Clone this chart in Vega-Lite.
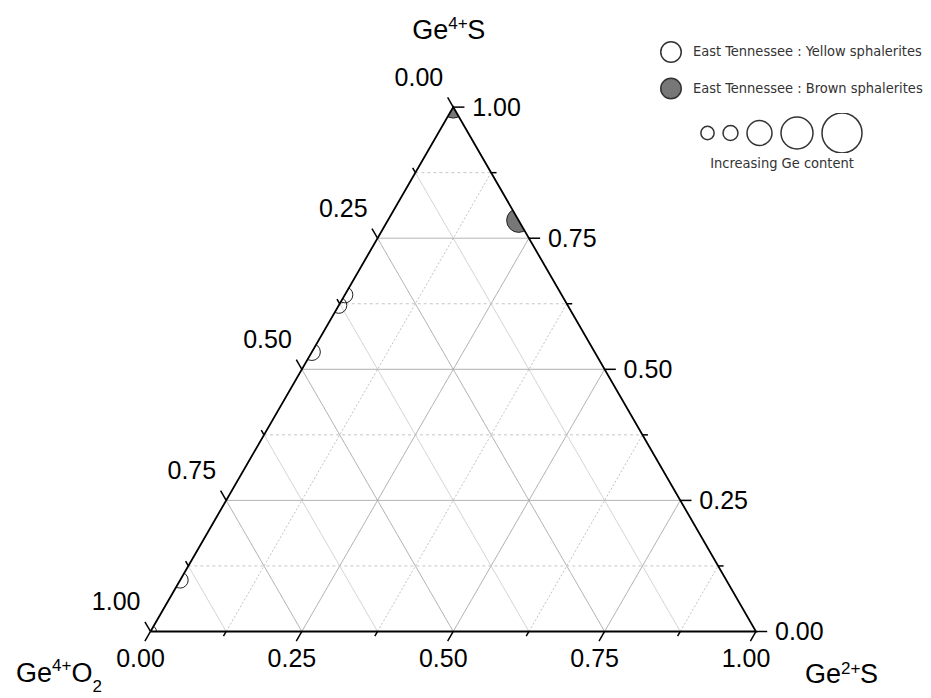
{
  "$schema": "https://vega.github.io/schema/vega-lite/v6.json",
  "width": 931,
  "height": 698,
  "autosize": "none",
  "padding": 0,
  "background": "white",
  "config": {
    "view": {"stroke": null},
    "text": {"font": "Liberation Sans, Arial, sans-serif", "color": "black"}
  },
  "datasets": {
    "pts": [
      {"Ge4O2": 0, "Ge2S": 0, "Ge4S": 1, "type": "East Tennessee : Brown sphalerites", "Ge": 302},
      {"Ge4O2": 0, "Ge2S": 0.216, "Ge4S": 0.784, "type": "East Tennessee : Brown sphalerites", "Ge": 360},
      {"Ge4O2": 0.358, "Ge2S": 0, "Ge4S": 0.642, "type": "East Tennessee : Yellow sphalerites", "Ge": 160},
      {"Ge4O2": 0.378, "Ge2S": 0, "Ge4S": 0.622, "type": "East Tennessee : Yellow sphalerites", "Ge": 160},
      {"Ge4O2": 0.467, "Ge2S": 0, "Ge4S": 0.533, "type": "East Tennessee : Yellow sphalerites", "Ge": 180},
      {"Ge4O2": 0.902, "Ge2S": 0, "Ge4S": 0.098, "type": "East Tennessee : Yellow sphalerites", "Ge": 160},
      {"Ge4O2": 1, "Ge2S": 0, "Ge4S": 0, "type": "East Tennessee : Yellow sphalerites", "Ge": 90}
    ],
    "grid": [
      {"axis": "a", "v": 0.125}, {"axis": "a", "v": 0.25}, {"axis": "a", "v": 0.375}, {"axis": "a", "v": 0.5},
      {"axis": "a", "v": 0.625}, {"axis": "a", "v": 0.75}, {"axis": "a", "v": 0.875},
      {"axis": "b", "v": 0.125}, {"axis": "b", "v": 0.25}, {"axis": "b", "v": 0.375}, {"axis": "b", "v": 0.5},
      {"axis": "b", "v": 0.625}, {"axis": "b", "v": 0.75}, {"axis": "b", "v": 0.875},
      {"axis": "c", "v": 0.125}, {"axis": "c", "v": 0.25}, {"axis": "c", "v": 0.375}, {"axis": "c", "v": 0.5},
      {"axis": "c", "v": 0.625}, {"axis": "c", "v": 0.75}, {"axis": "c", "v": 0.875}
    ],
    "ticks": [
      {"axis": "a", "v": 0}, {"axis": "a", "v": 0.125}, {"axis": "a", "v": 0.25}, {"axis": "a", "v": 0.375}, {"axis": "a", "v": 0.5},
      {"axis": "a", "v": 0.625}, {"axis": "a", "v": 0.75}, {"axis": "a", "v": 0.875}, {"axis": "a", "v": 1},
      {"axis": "b", "v": 0}, {"axis": "b", "v": 0.125}, {"axis": "b", "v": 0.25}, {"axis": "b", "v": 0.375}, {"axis": "b", "v": 0.5},
      {"axis": "b", "v": 0.625}, {"axis": "b", "v": 0.75}, {"axis": "b", "v": 0.875}, {"axis": "b", "v": 1},
      {"axis": "c", "v": 0}, {"axis": "c", "v": 0.125}, {"axis": "c", "v": 0.25}, {"axis": "c", "v": 0.375}, {"axis": "c", "v": 0.5},
      {"axis": "c", "v": 0.625}, {"axis": "c", "v": 0.75}, {"axis": "c", "v": 0.875}, {"axis": "c", "v": 1}
    ],
    "vertices": [
      {"name": "Ge4O2", "i": 0, "Ge2S": 0, "Ge4S": 0},
      {"name": "Ge2S", "i": 1, "Ge2S": 1, "Ge4S": 0},
      {"name": "Ge4S", "i": 2, "Ge2S": 0, "Ge4S": 1},
      {"name": "Ge4O2", "i": 3, "Ge2S": 0, "Ge4S": 0}
    ],
    "maskL": [{"y": -0.03, "x": -0.0573, "x2": -0.0173}, {"y": 0.9, "x": 0.4796, "x2": 0.5196}],
    "maskR": [{"y": -0.03, "x": 1.0173, "x2": 1.0573}, {"y": 0.9, "x": 0.4804, "x2": 0.5204}],
    "maskB": [{"x": -0.06, "x2": 1.06, "y": -0.03, "y2": 0}]
  },
  "encoding": {
    "x": {"field": "x", "type": "quantitative", "scale": {"domain": [-0.24855, 1.28902], "nice": false, "zero": false}, "axis": null},
    "y": {"field": "y", "type": "quantitative", "scale": {"domain": [-0.10983, 1.04294], "nice": false, "zero": false}, "axis": null}
  },
  "layer": [
    {
      "data": {"name": "grid"},
      "transform": [
        {"calculate": "datum.axis=='c' ? datum.v/2 : datum.axis=='b' ? datum.v : 1-datum.v", "as": "x"},
        {"calculate": "datum.axis=='c' ? datum.v*0.8660254 : 0", "as": "y"},
        {"calculate": "datum.axis=='c' ? 1-datum.v/2 : datum.axis=='b' ? (1+datum.v)/2 : (1-datum.v)/2", "as": "x2"},
        {"calculate": "datum.axis=='c' ? datum.v*0.8660254 : (1-datum.v)*0.8660254", "as": "y2"},
        {"calculate": "(datum.v*4)%1==0 ? 'major' : datum.axis", "as": "kind"}
      ],
      "mark": {"type": "rule", "strokeWidth": 1},
      "encoding": {
        "x2": {"field": "x2"},
        "y2": {"field": "y2"},
        "color": {"field": "kind", "type": "nominal", "scale": {"domain": ["major", "a", "b", "c"], "range": ["#a8a8a8", "#cfcfcf", "#c2c2c2", "#c6c6c6"]}, "legend": null},
        "strokeDash": {"field": "kind", "type": "nominal", "scale": {"domain": ["major", "a", "b", "c"], "range": [[1, 0], [1, 0], [2, 2], [3, 3]]}, "legend": null}
      }
    },
    {
      "data": {"name": "pts"},
      "transform": [
        {"calculate": "datum.Ge2S + datum.Ge4S/2", "as": "x"},
        {"calculate": "datum.Ge4S*0.8660254", "as": "y"}
      ],
      "mark": {"type": "point", "shape": "circle", "filled": true, "stroke": "#222222", "strokeWidth": 1, "opacity": 1},
      "encoding": {
        "fill": {
          "field": "type", "type": "nominal",
          "scale": {"domain": ["East Tennessee : Yellow sphalerites", "East Tennessee : Brown sphalerites"], "range": ["transparent", "#777777"]},
          "legend": {
            "title": null, "orient": "none", "legendX": 660, "legendY": 41, "padding": 0,
            "direction": "vertical", "symbolType": "circle", "symbolSize": 420,
            "symbolStrokeColor": "#333333", "symbolStrokeWidth": 1.5,
            "labelFont": "DejaVu Sans Condensed, sans-serif", "labelFontSize": 14.5,
            "labelColor": "#333333", "labelOffset": 11, "rowPadding": 8.5, "labelLimit": 400
          }
        },
        "size": {
          "field": "Ge", "type": "quantitative",
          "scale": {"domain": [0, 1000], "range": [0, 1600]},
          "legend": {
            "title": "Increasing Ge content", "orient": "none", "legendX": 700, "legendY": 113, "padding": 0,
            "direction": "horizontal", "values": [110, 140, 390, 640, 1000],
            "symbolType": "circle", "symbolFillColor": "transparent", "symbolStrokeColor": "#333333", "symbolStrokeWidth": 1.5,
            "labelExpr": "''", "labelOffset": 0, "columnPadding": 7, "clipHeight": 40,
            "titleOrient": "bottom", "titleAnchor": "middle", "titlePadding": 4,
            "titleFont": "DejaVu Sans Condensed, sans-serif", "titleFontSize": 14.5,
            "titleFontWeight": "normal", "titleColor": "#333333"
          }
        }
      }
    },
    {
      "data": {"name": "maskL"},
      "mark": {"type": "area", "orient": "horizontal", "color": "white", "opacity": 1},
      "encoding": {"x2": {"field": "x2"}}
    },
    {
      "data": {"name": "maskR"},
      "mark": {"type": "area", "orient": "horizontal", "color": "white", "opacity": 1},
      "encoding": {"x2": {"field": "x2"}}
    },
    {
      "data": {"name": "maskB"},
      "mark": {"type": "rect", "color": "white", "opacity": 1},
      "encoding": {"x2": {"field": "x2"}, "y2": {"field": "y2"}}
    },
    {
      "data": {"name": "vertices"},
      "transform": [
        {"calculate": "datum.Ge2S + datum.Ge4S/2", "as": "x"},
        {"calculate": "datum.Ge4S*0.8660254", "as": "y"}
      ],
      "mark": {"type": "line", "color": "black", "strokeWidth": 1.8, "strokeJoin": "miter"},
      "encoding": {"order": {"field": "i", "type": "quantitative"}}
    },
    {
      "data": {"name": "ticks"},
      "transform": [
        {"calculate": "datum.axis=='b' ? datum.v : datum.axis=='c' ? 1-datum.v/2 : (1-datum.v)/2", "as": "x"},
        {"calculate": "datum.axis=='b' ? 0 : datum.axis=='c' ? datum.v*0.8660254 : (1-datum.v)*0.8660254", "as": "y"},
        {"calculate": "(datum.v*4)%1==0 ? 0.0185 : 0.009", "as": "len"},
        {"calculate": "datum.x + datum.len*(datum.axis=='c' ? 1 : -0.5)", "as": "x2"},
        {"calculate": "datum.y + datum.len*(datum.axis=='b' ? -0.8660254 : datum.axis=='c' ? 0 : 0.8660254)", "as": "y2"}
      ],
      "mark": {"type": "rule", "color": "black", "strokeWidth": 1.5},
      "encoding": {"x2": {"field": "x2"}, "y2": {"field": "y2"}}
    },
    {
      "data": {"name": "ticks"},
      "transform": [
        {"filter": "(datum.v*4)%1==0 && datum.axis=='b'"},
        {"calculate": "datum.v", "as": "x"},
        {"calculate": "0", "as": "y"},
        {"calculate": "format(datum.v, '.2f')", "as": "label"}
      ],
      "mark": {"type": "text", "fontSize": 25, "align": "center", "baseline": "alphabetic", "dx": -10, "dy": 35.5},
      "encoding": {"text": {"field": "label", "type": "nominal"}}
    },
    {
      "data": {"name": "ticks"},
      "transform": [
        {"filter": "(datum.v*4)%1==0 && datum.axis=='c'"},
        {"calculate": "1-datum.v/2", "as": "x"},
        {"calculate": "datum.v*0.8660254", "as": "y"},
        {"calculate": "format(datum.v, '.2f')", "as": "label"}
      ],
      "mark": {"type": "text", "fontSize": 25, "align": "left", "baseline": "alphabetic", "dx": 19, "dy": 9},
      "encoding": {"text": {"field": "label", "type": "nominal"}}
    },
    {
      "data": {"name": "ticks"},
      "transform": [
        {"filter": "(datum.v*4)%1==0 && datum.axis=='a'"},
        {"calculate": "(1-datum.v)/2", "as": "x"},
        {"calculate": "(1-datum.v)*0.8660254", "as": "y"},
        {"calculate": "format(datum.v, '.2f')", "as": "label"}
      ],
      "mark": {"type": "text", "fontSize": 25, "align": "right", "baseline": "alphabetic", "dx": -10, "dy": -21},
      "encoding": {"text": {"field": "label", "type": "nominal"}}
    },
    {
      "data": {"name": "vertices"},
      "transform": [{"filter": "datum.i==2"}, {"calculate": "datum.Ge2S + datum.Ge4S/2", "as": "x"}, {"calculate": "datum.Ge4S*0.8660254", "as": "y"}],
      "mark": {"type": "text", "text": "Ge", "fontSize": 27, "align": "right", "baseline": "alphabetic", "dx": -5, "dy": -68}
    },
    {
      "data": {"name": "vertices"},
      "transform": [{"filter": "datum.i==2"}, {"calculate": "datum.Ge2S + datum.Ge4S/2", "as": "x"}, {"calculate": "datum.Ge4S*0.8660254", "as": "y"}],
      "mark": {"type": "text", "text": "4+", "fontSize": 17, "align": "left", "baseline": "alphabetic", "dx": -5, "dy": -78}
    },
    {
      "data": {"name": "vertices"},
      "transform": [{"filter": "datum.i==2"}, {"calculate": "datum.Ge2S + datum.Ge4S/2", "as": "x"}, {"calculate": "datum.Ge4S*0.8660254", "as": "y"}],
      "mark": {"type": "text", "text": "S", "fontSize": 27, "align": "left", "baseline": "alphabetic", "dx": 14, "dy": -68}
    },
    {
      "data": {"name": "vertices"},
      "transform": [{"filter": "datum.i==0"}, {"calculate": "datum.Ge2S + datum.Ge4S/2", "as": "x"}, {"calculate": "datum.Ge4S*0.8660254", "as": "y"}],
      "mark": {"type": "text", "text": "Ge", "fontSize": 27, "align": "right", "baseline": "alphabetic", "dx": -98.5, "dy": 50.5}
    },
    {
      "data": {"name": "vertices"},
      "transform": [{"filter": "datum.i==0"}, {"calculate": "datum.Ge2S + datum.Ge4S/2", "as": "x"}, {"calculate": "datum.Ge4S*0.8660254", "as": "y"}],
      "mark": {"type": "text", "text": "4+", "fontSize": 17, "align": "left", "baseline": "alphabetic", "dx": -98.5, "dy": 40}
    },
    {
      "data": {"name": "vertices"},
      "transform": [{"filter": "datum.i==0"}, {"calculate": "datum.Ge2S + datum.Ge4S/2", "as": "x"}, {"calculate": "datum.Ge4S*0.8660254", "as": "y"}],
      "mark": {"type": "text", "text": "O", "fontSize": 27, "align": "left", "baseline": "alphabetic", "dx": -79, "dy": 50.5}
    },
    {
      "data": {"name": "vertices"},
      "transform": [{"filter": "datum.i==0"}, {"calculate": "datum.Ge2S + datum.Ge4S/2", "as": "x"}, {"calculate": "datum.Ge4S*0.8660254", "as": "y"}],
      "mark": {"type": "text", "text": "2", "fontSize": 17, "align": "left", "baseline": "alphabetic", "dx": -58, "dy": 60.5}
    },
    {
      "data": {"name": "vertices"},
      "transform": [{"filter": "datum.i==1"}, {"calculate": "datum.Ge2S + datum.Ge4S/2", "as": "x"}, {"calculate": "datum.Ge4S*0.8660254", "as": "y"}],
      "mark": {"type": "text", "text": "Ge", "fontSize": 27, "align": "right", "baseline": "alphabetic", "dx": 85, "dy": 51.5}
    },
    {
      "data": {"name": "vertices"},
      "transform": [{"filter": "datum.i==1"}, {"calculate": "datum.Ge2S + datum.Ge4S/2", "as": "x"}, {"calculate": "datum.Ge4S*0.8660254", "as": "y"}],
      "mark": {"type": "text", "text": "2+", "fontSize": 17, "align": "left", "baseline": "alphabetic", "dx": 85, "dy": 42.5}
    },
    {
      "data": {"name": "vertices"},
      "transform": [{"filter": "datum.i==1"}, {"calculate": "datum.Ge2S + datum.Ge4S/2", "as": "x"}, {"calculate": "datum.Ge4S*0.8660254", "as": "y"}],
      "mark": {"type": "text", "text": "S", "fontSize": 27, "align": "left", "baseline": "alphabetic", "dx": 104, "dy": 51.5}
    }
  ]
}
